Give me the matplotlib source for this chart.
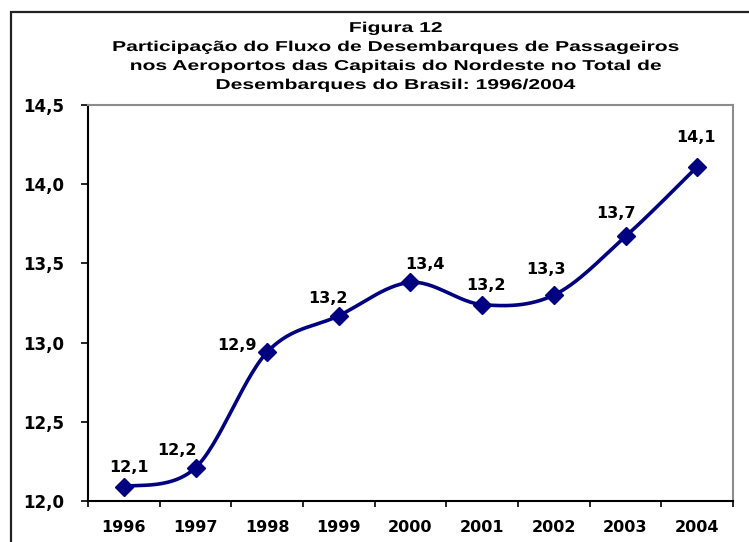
#! /usr/bin/env python3

'''
Figura 12 - participacao dos desembarques nas capitais do Nordeste.
Linha suavizada no estilo do Excel, salva em out.png.
'''

import numpy as np
import matplotlib
matplotlib.use('Agg')
import matplotlib.pyplot as plt
from matplotlib.patches import Rectangle, PathPatch
from matplotlib.textpath import TextPath
from matplotlib.font_manager import FontProperties
from matplotlib.transforms import Affine2D
from matplotlib.ticker import FixedLocator, FuncFormatter

years = ['1996', '1997', '1998', '1999', '2000', '2001', '2002', '2003', '2004']
share = [12.09, 12.21, 12.94, 13.17, 13.38, 13.24, 13.30, 13.67, 14.11]
labels = ['12,1', '12,2', '12,9', '13,2', '13,4', '13,2', '13,3', '13,7', '14,1']

title_lines = ['Figura 12',
               'Participação do Fluxo de Desembarques de Passageiros',
               'nos Aeroportos das Capitais do Nordeste no Total de',
               'Desembarques do Brasil: 1996/2004']

NAVY = '#000080'
FONT = 'DejaVu Sans'
W, H = 749, 542

# label offsets in pixels (dx, dy) relative to the marker
label_offsets = [(5, 19), (-19, 17), (-30, 7), (-11, 17), (14, 18),
                 (4, 19), (-8, 26), (-10, 23), (-1, 29)]


def smooth(x, y, n=30):
    # bezier with catmull-rom style control points, like excel's smoothed line
    pts = np.column_stack([np.asarray(x, float), np.asarray(y, float)])
    ext = np.vstack([pts[0], pts, pts[-1]])
    out = []
    t = np.linspace(0, 1, n)[:, None]
    for i in range(len(pts) - 1):
        p0, p3 = ext[i + 1], ext[i + 2]
        c1 = p0 + (ext[i + 2] - ext[i]) / 6
        c2 = p3 - (ext[i + 3] - ext[i + 1]) / 6
        seg = ((1 - t) ** 3 * p0 + 3 * (1 - t) ** 2 * t * c1
               + 3 * (1 - t) * t ** 2 * c2 + t ** 3 * p3)
        out.append(seg if i == 0 else seg[1:])
    seg = np.vstack(out)
    return seg[:, 0], seg[:, 1]


def title_block(fig, lines, xc, baselines, size_px, target_width):
    # excel draws the title with wide letter spacing; stretch the glyphs to match
    prop = FontProperties(family='Liberation Sans', weight='bold')
    paths = [TextPath((0, 0), s, size=size_px, prop=prop) for s in lines]
    widest = max(p.get_extents().width for p in paths)
    sx = target_width / widest
    to_fig = Affine2D().scale(1 / fig.dpi) + fig.dpi_scale_trans
    for p, yb in zip(paths, baselines):
        ext = p.get_extents()
        cx = ext.x0 + ext.width / 2
        tr = Affine2D().translate(-cx, 0).scale(sx, 1).translate(xc, H - yb)
        fig.patches.append(PathPatch(p, transform=tr + to_fig,
                                     facecolor='black', edgecolor='none'))


fig = plt.figure(figsize=(W / 100, H / 100), dpi=100)
ax = fig.add_axes([88 / W, 1 - 501 / H, (733 - 88) / W, (501 - 105) / H])

xs = np.arange(len(years))
sx_, sy_ = smooth(xs, share)
ax.plot(sx_, sy_, color=NAVY, lw=2.6, solid_capstyle='round', zorder=2)
ax.plot(xs, share, ls='none', marker='D', ms=9.5, color=NAVY,
        markeredgecolor=NAVY, markeredgewidth=1, zorder=3)

for x, v, lab, (dx, dy) in zip(xs, share, labels, label_offsets):
    ax.annotate(lab, (x, v), xytext=(dx * 0.72, dy * 0.72),
                textcoords='offset points', ha='center', va='center',
                fontsize=11.5, fontweight='bold', family=FONT)

ax.set_xlim(-0.5, len(years) - 0.5)
ax.set_ylim(12.0, 14.5)

ax.set_yticks(np.arange(12.0, 14.51, 0.5))
ax.yaxis.set_major_formatter(FuncFormatter(lambda v, p: f'{v:.1f}'.replace('.', ',')))

ax.xaxis.set_major_locator(FixedLocator(np.arange(-0.5, len(years), 1.0)))
ax.xaxis.set_major_formatter(FuncFormatter(lambda v, p: ''))
ax.xaxis.set_minor_locator(FixedLocator(xs))
ax.xaxis.set_minor_formatter(FuncFormatter(lambda v, p: years[int(round(v))]))

ax.tick_params(axis='x', which='major', direction='out', length=4, width=1.2,
               color='black')
ax.tick_params(axis='x', which='minor', length=0, pad=14)
ax.tick_params(axis='y', direction='out', length=5, width=1.2, pad=12,
               color='black')
for t in ax.get_xticklabels(minor=True):
    t.set_fontsize(11.5)
    t.set_fontweight('bold')
    t.set_family(FONT)
for t in ax.get_yticklabels():
    t.set_fontsize(12)
    t.set_fontweight('bold')
    t.set_family(FONT)

for side in ['left', 'bottom']:
    ax.spines[side].set_color('black')
    ax.spines[side].set_linewidth(1.5)
for side in ['top', 'right']:
    ax.spines[side].set_color('#8c8c8c')
    ax.spines[side].set_linewidth(1.5)

title_block(fig, title_lines, 396, [32, 51, 70, 89], 14.3, 565)

# outer chart border, runs off the right and bottom edge like the source
fig.patches.append(Rectangle((11 / W, -0.1), 1.2, 1.1 - 12 / H,
                             transform=fig.transFigure, fill=False,
                             edgecolor='#222222', lw=1.6))

fig.savefig('out.png', dpi=100)
